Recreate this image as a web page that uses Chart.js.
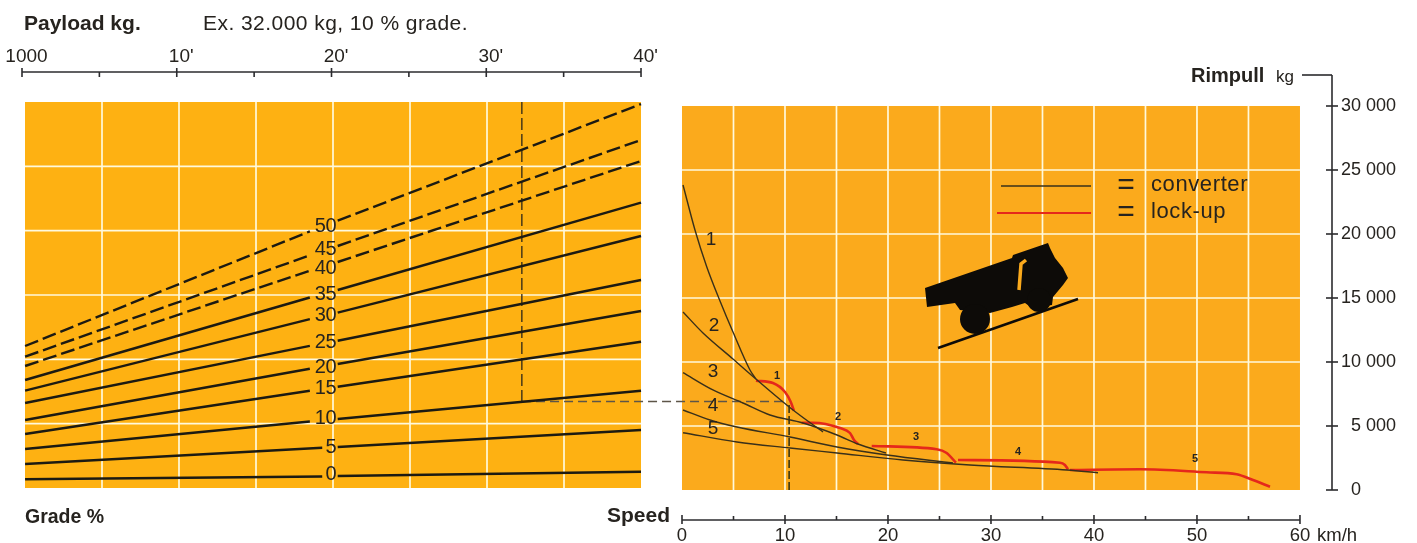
<!DOCTYPE html>
<html>
<head>
<meta charset="utf-8">
<title>Rimpull chart</title>
<script src="https://cdn.jsdelivr.net/npm/chart.js@4"></script>
<style>
  html, body { margin: 0; padding: 0; background: #fff; }
  canvas { display: block; }
</style>
</head>
<body>
<canvas id="rimpull-canvas" width="1417" height="543"></canvas>
<script>
// Payload (thousand kg), the gap leaves room for the number
const payloadWide = [0.2, 18.6, 20.4, 40];
const payloadNarrow = [0.2, 19.4, 20.4, 40];

// Grade lines, force in kg
const grade0 = [676, 894, 933, 1267];
const grade5 = [1865, 3124, 3187, 4508];
const grade10 = [3031, 5168, 5363, 7562];
const grade15 = [4197, 7562, 7873, 11370];
const grade20 = [5285, 9272, 9637, 13756];
const grade25 = [6606, 11044, 11448, 16166];
const grade30 = [7562, 13119, 13624, 19585];
const grade35 = [8394, 14805, 15389, 22173];
const grade40 = [9482, 16888, 17565, 25414];
const grade45 = [10205, 18085, 18808, 27047];
const grade50 = [11036, 19943, 20775, 29844];

// Converter curves: speed km/h and rimpull kg
const conv1Speed = [0.1, 1.26, 2.4, 3.69, 4.95, 6.6, 7.18];
const conv1Pull = [23828, 20313, 17445, 14766, 12344, 9375, 8672];
const conv2Speed = [0.1, 2.04, 4.95, 7.18, 10.78, 13.69];
const conv2Pull = [13906, 12266, 10234, 8672, 6250, 4531];
const conv3Speed = [0.1, 3.0, 5.92, 8.54, 11.75, 15.05, 17.09, 19.8];
const conv3Pull = [9164, 7813, 6797, 5859, 5234, 4297, 3594, 2891];
const conv4Speed = [0.1, 2.72, 5.34, 10.49, 15.05, 19.9, 26.31];
const conv4Pull = [6250, 5469, 4922, 4141, 3359, 2734, 2109];
const conv5Speed = [0.1, 5.34, 10.49, 15.05, 21.46, 27.96, 37.38, 40.39];
const conv5Pull = [4477, 3750, 3281, 2891, 2344, 1953, 1563, 1352];

// Lock-up curves
const lock1Speed = [7.18, 8.83, 10, 10.55, 10.87];
const lock1Pull = [8539, 8359, 7656, 6898, 6195];
const lock2Speed = [11.62, 12.72, 15.34, 16.31, 16.7, 17.09];
const lock2Pull = [5258, 5258, 4844, 4453, 3906, 3594];
const lock3Speed = [18.42, 24.73, 25.7, 26.6];
const lock3Pull = [3438, 3180, 2891, 2133];
const lock4Speed = [26.8, 36.7, 37.18, 37.48];
const lock4Pull = [2344, 2133, 1953, 1617];
const lock5Speed = [37.67, 44.47, 50.94, 53.85, 55.44, 57.09];
const lock5Pull = [1563, 1617, 1383, 1227, 781, 258];

// Worked example, 32.000 kg on 10 % grade
const examplePayload = [32.3, 32.3];
const exampleForce = [30000, 6762];
const exampleAcrossSpeed = [-15.53, 10.2];
const exampleAcrossPull = [6914, 6914];
const exampleSpeed = [10.4, 10.4];
const examplePull = [6641, 0];

// Axes
const payloadTicks = [0, 10, 20, 30, 40];
const payloadLabels = ['1000', "10'", "20'", "30'", "40'"];
const payloadMinor = [5, 15, 25, 35];
const speedTicks = [0, 10, 20, 30, 40, 50, 60];
const speedLabels = ['0', '10', '20', '30', '40', '50', '60'];
const speedMinor = [5, 15, 25, 35, 45, 55];
const pullTicks = [0, 5000, 10000, 15000, 20000, 25000, 30000];
const pullLabels = ['  0', '  5 000', '10 000', '15 000', '20 000', '25 000', '30 000'];
const cellsX = [5, 10, 15, 20, 25, 30, 35];
const cellsY = [5000, 10000, 15000, 20000, 25000];
const speedCells = [5, 10, 15, 20, 25, 30, 35, 40, 45, 50, 55];

const FONT = '"Liberation Sans", Arial, sans-serif';
const INK = '#26231f';

const toPoints = (xs, ys) => xs.map((x, i) => ({ x, y: ys[i] }));

function gradeLine(xs, ys, dashed) {
  return {
    data: toPoints(xs, ys),
    xAxisID: 'xTop',
    yAxisID: 'yLeft',
    borderWidth: 2.4,
    borderColor: '#1c1a12',
    borderDash: dashed ? [14, 5] : [],
    pointRadius: 0,
    tension: 0,
    segment: { borderColor: (ctx) => (ctx.p0DataIndex === 1 ? 'transparent' : '#1c1a12') }
  };
}

function speedLine(xs, ys, color, width) {
  return {
    data: toPoints(xs, ys),
    xAxisID: 'xSpeed',
    yAxisID: 'y',
    borderColor: color,
    borderWidth: width,
    pointRadius: 0,
    cubicInterpolationMode: 'monotone'
  };
}

const datasets = [
  gradeLine(payloadNarrow, grade0, false),
  gradeLine(payloadNarrow, grade5, false),
  gradeLine(payloadWide, grade10, false),
  gradeLine(payloadWide, grade15, false),
  gradeLine(payloadWide, grade20, false),
  gradeLine(payloadWide, grade25, false),
  gradeLine(payloadWide, grade30, false),
  gradeLine(payloadWide, grade35, false),
  gradeLine(payloadWide, grade40, true),
  gradeLine(payloadWide, grade45, true),
  gradeLine(payloadWide, grade50, true),
  speedLine(conv1Speed, conv1Pull, '#39301a', 1.4),
  speedLine(conv2Speed, conv2Pull, '#39301a', 1.4),
  speedLine(conv3Speed, conv3Pull, '#39301a', 1.4),
  speedLine(conv4Speed, conv4Pull, '#39301a', 1.4),
  speedLine(conv5Speed, conv5Pull, '#39301a', 1.4),
  speedLine(lock1Speed, lock1Pull, '#e5281b', 2.6),
  speedLine(lock2Speed, lock2Pull, '#e5281b', 2.6),
  speedLine(lock3Speed, lock3Pull, '#e5281b', 2.6),
  speedLine(lock4Speed, lock4Pull, '#e5281b', 2.6),
  speedLine(lock5Speed, lock5Pull, '#e5281b', 2.6),
  {
    data: toPoints(examplePayload, exampleForce),
    xAxisID: 'xTop', yAxisID: 'yLeft',
    borderColor: '#2c2618', borderWidth: 1.3, borderDash: [12, 4], pointRadius: 0
  },
  {
    data: toPoints(exampleAcrossSpeed, exampleAcrossPull),
    xAxisID: 'xSpeed', yAxisID: 'y',
    borderColor: '#5d5548', borderWidth: 1.3, borderDash: [9, 5], pointRadius: 0
  },
  {
    data: toPoints(exampleSpeed, examplePull),
    xAxisID: 'xSpeed', yAxisID: 'y',
    borderColor: '#2f2f12', borderWidth: 1.5, borderDash: [8, 3], pointRadius: 0
  }
];

function line(ctx, x1, y1, x2, y2) {
  ctx.beginPath();
  ctx.moveTo(x1, y1);
  ctx.lineTo(x2, y2);
  ctx.stroke();
}

function text(ctx, str, x, y, font, align, baseline, spacing) {
  ctx.font = font + ' ' + FONT;
  ctx.textAlign = align || 'left';
  ctx.textBaseline = baseline || 'alphabetic';
  ctx.letterSpacing = spacing || '0px';
  ctx.fillStyle = INK;
  ctx.fillText(str, x, y);
  ctx.letterSpacing = '0px';
}

const platesPlugin = {
  id: 'plates',
  beforeDatasetsDraw(chart) {
    const { ctx, scales } = chart;
    const { xCells, yLeft, xSpeed, y } = scales;
    ctx.save();

    // left plate
    const lTop = yLeft.getPixelForValue(30000), lBottom = yLeft.getPixelForValue(0);
    const lLeft = xCells.getPixelForValue(0), lRight = xCells.getPixelForValue(40);
    ctx.fillStyle = '#feb112';
    ctx.fillRect(lLeft, lTop, lRight - lLeft, lBottom - lTop);
    ctx.strokeStyle = '#fff9dc';
    ctx.lineWidth = 1.7;
    cellsX.forEach((v) => line(ctx, xCells.getPixelForValue(v), lTop, xCells.getPixelForValue(v), lBottom));
    cellsY.forEach((v) => line(ctx, lLeft, yLeft.getPixelForValue(v), lRight, yLeft.getPixelForValue(v)));

    // right plate
    const rTop = y.getPixelForValue(30000), rBottom = y.getPixelForValue(0);
    const rLeft = xSpeed.getPixelForValue(0), rRight = xSpeed.getPixelForValue(60);
    ctx.fillStyle = '#fbaa1c';
    ctx.fillRect(rLeft, rTop, rRight - rLeft, rBottom - rTop);
    ctx.strokeStyle = '#fff9dc';
    speedCells.forEach((v) => line(ctx, xSpeed.getPixelForValue(v), rTop, xSpeed.getPixelForValue(v), rBottom));
    cellsY.forEach((v) => line(ctx, rLeft, y.getPixelForValue(v), rRight, y.getPixelForValue(v)));

    drawTruck(ctx);
    ctx.restore();
  },
  afterDraw(chart) {
    const { ctx, scales } = chart;
    const { xTop, xSpeed, y } = scales;
    ctx.save();
    ctx.strokeStyle = '#2b2b2e';
    ctx.lineWidth = 1.6;

    // payload rule
    line(ctx, xTop.getPixelForValue(0), 72, xTop.getPixelForValue(40), 72);
    payloadTicks.forEach((v) => line(ctx, xTop.getPixelForValue(v), 68, xTop.getPixelForValue(v), 77));
    payloadMinor.forEach((v) => line(ctx, xTop.getPixelForValue(v), 72, xTop.getPixelForValue(v), 77));

    // speed rule
    line(ctx, xSpeed.getPixelForValue(0), 520, xSpeed.getPixelForValue(60), 520);
    speedTicks.forEach((v) => line(ctx, xSpeed.getPixelForValue(v), 515, xSpeed.getPixelForValue(v), 524));
    speedMinor.forEach((v) => line(ctx, xSpeed.getPixelForValue(v), 516, xSpeed.getPixelForValue(v), 520));

    // rimpull rule, runs up and turns over to the kg label
    line(ctx, 1332, 75, 1332, y.getPixelForValue(0));
    line(ctx, 1302, 75, 1332, 75);
    pullTicks.forEach((v) => line(ctx, 1326, y.getPixelForValue(v), 1338, y.getPixelForValue(v)));

    // titles
    text(ctx, 'Payload kg.', 24, 30, 'bold 21px');
    text(ctx, 'Ex. 32.000 kg, 10 % grade.', 203, 30, '21px', 'left', 'alphabetic', '0.45px');
    text(ctx, 'Grade %', 25, 523, 'bold 19.5px');
    text(ctx, 'Speed', 607, 522, 'bold 21px');
    text(ctx, 'Rimpull', 1191, 82, 'bold 20px');
    text(ctx, 'kg', 1276, 82, '17px');
    text(ctx, 'km/h', 1317, 541, '18.5px');

    // numbers on the grade lines
    const gradeNotes = [['50', 226], ['45', 249], ['40', 268], ['35', 294], ['30', 315], ['25', 342],
      ['20', 367], ['15', 388], ['10', 418], ['5', 447], ['0', 474]];
    gradeNotes.forEach(([label, py]) => text(ctx, label, 336, py, '20px', 'right', 'middle', '-0.5px'));

    // numbers on the converter curves and lock-up curves
    [['1', 711, 240], ['2', 714, 326], ['3', 713, 372], ['4', 713, 406], ['5', 713, 429]]
      .forEach(([label, px, py]) => text(ctx, label, px, py, '19px', 'center', 'middle'));
    [['1', 777, 376], ['2', 838, 417], ['3', 916, 437], ['4', 1018, 452], ['5', 1195, 459]]
      .forEach(([label, px, py]) => text(ctx, label, px, py, 'bold 11px', 'center', 'middle'));

    // key
    ctx.strokeStyle = '#39301a';
    ctx.lineWidth = 1.4;
    line(ctx, 1001, 186, 1091, 186);
    ctx.strokeStyle = '#e5281b';
    ctx.lineWidth = 2;
    line(ctx, 997, 213, 1091, 213);
    text(ctx, '=', 1126, 194, '30px', 'center');
    text(ctx, '=', 1126, 221, '30px', 'center');
    text(ctx, 'converter', 1151, 191, '22px', 'left', 'alphabetic', '0.6px');
    text(ctx, 'lock-up', 1151, 218, '22px', 'left', 'alphabetic', '0.6px');
    ctx.restore();
  }
};

// Little truck on its slope
function drawTruck(ctx) {
  ctx.fillStyle = '#0d0b08';
  ctx.strokeStyle = '#0d0b08';
  ctx.lineWidth = 2.5;
  line(ctx, 938, 348, 1078, 299);
  const outline = [[925, 288], [1012, 258], [1013, 255], [1048, 243], [1050, 248], [1055, 258], [1063, 268],
    [1068, 278], [1063, 285], [1053, 297], [1052, 305], [1032, 308], [1025, 303], [1012, 307],
    [990, 313], [960, 310], [955, 303], [927, 307]];
  ctx.beginPath();
  outline.forEach(([px, py], i) => (i ? ctx.lineTo(px, py) : ctx.moveTo(px, py)));
  ctx.closePath();
  ctx.fill();
  ctx.beginPath();
  ctx.arc(975, 319, 15, 0, Math.PI * 2);
  ctx.fill();
  ctx.beginPath();
  ctx.arc(1039, 300, 12, 0, Math.PI * 2);
  ctx.fill();
  // cab window
  ctx.strokeStyle = '#fbaa1c';
  ctx.lineWidth = 3.5;
  ctx.beginPath();
  ctx.moveTo(1026, 260);
  ctx.lineTo(1021, 264);
  ctx.lineTo(1019, 290);
  ctx.stroke();
}

const quietGrid = { display: false, drawTicks: false };

new Chart(document.getElementById('rimpull-canvas'), {
  type: 'line',
  data: { datasets },
  plugins: [platesPlugin],
  options: {
    responsive: false,
    animation: false,
    layout: { padding: { left: 22, top: 0, right: 0, bottom: 0 } },
    plugins: { legend: { display: false }, tooltip: { enabled: false }, title: { display: false } },
    scales: {
      // 0 at px 22, 40 at px 641
      xTop: {
        type: 'linear', axis: 'x', position: 'top', min: 0, max: 84.65,
        border: { display: false }, grid: quietGrid,
        afterBuildTicks: (scale) => { scale.ticks = payloadTicks.map((value) => ({ value })); },
        afterFit: (scale) => { scale.height = 72; scale.paddingLeft = 0; scale.paddingRight = 0; },
        ticks: {
          autoSkip: false, maxRotation: 0, minRotation: 0, padding: 4, labelOffset: 4.5,
          color: INK, font: { family: FONT, size: 19 },
          callback: (v) => payloadLabels[payloadTicks.indexOf(v)]
        }
      },
      // same payload, but the printed cells sit a little off the ruler
      xCells: { type: 'linear', axis: 'x', display: false, min: -0.195, max: 84.87 },
      yLeft: { type: 'linear', axis: 'y', display: false, min: -2487, max: 32332 },
      // 0 at px 682, 60 at px 1300
      xSpeed: {
        type: 'linear', axis: 'x', position: 'bottom', min: -64.08, max: 63.11,
        border: { display: false }, grid: quietGrid,
        afterBuildTicks: (scale) => { scale.ticks = speedTicks.map((value) => ({ value })); },
        afterFit: (scale) => { scale.height = 23; scale.paddingLeft = 0; scale.paddingRight = 0; },
        ticks: {
          autoSkip: false, maxRotation: 0, minRotation: 0, padding: 5,
          color: INK, font: { family: FONT, size: 18.5 },
          callback: (v) => speedLabels[speedTicks.indexOf(v)]
        }
      },
      // 0 at px 490, 30 000 at px 106
      y: {
        type: 'linear', axis: 'y', position: 'right', min: -2344, max: 32656,
        border: { display: false }, grid: quietGrid,
        afterBuildTicks: (scale) => { scale.ticks = pullTicks.map((value) => ({ value })); },
        afterFit: (scale) => { scale.width = 85; },
        ticks: {
          autoSkip: false, padding: 9,
          color: INK, font: { family: FONT, size: 18 },
          callback: (v) => pullLabels[pullTicks.indexOf(v)]
        }
      }
    }
  }
});
</script>
</body>
</html>
